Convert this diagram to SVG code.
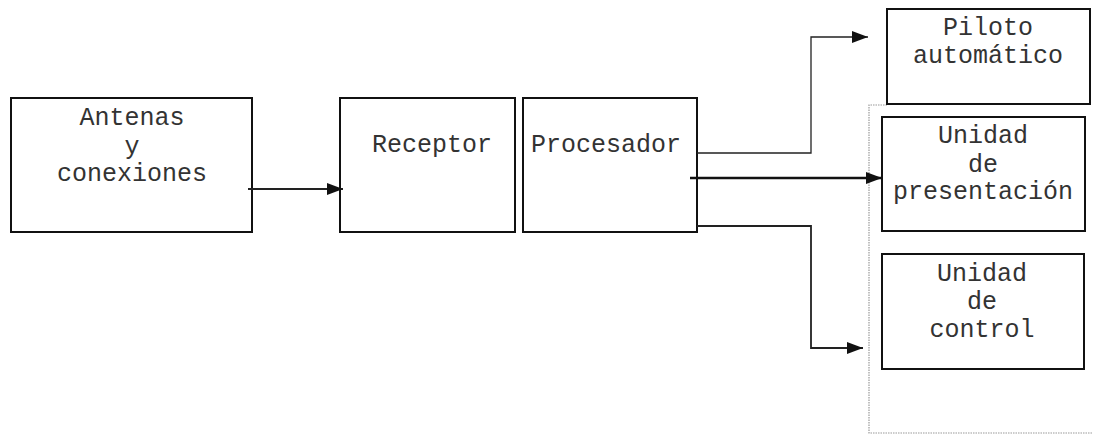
<svg xmlns="http://www.w3.org/2000/svg" width="1093" height="435" viewBox="0 0 1093 435">
<style>
.box{fill:#fff;stroke:#111;stroke-width:2}
.t{font-family:"Liberation Mono","Courier New",monospace;font-size:25px;fill:#333;text-anchor:middle}
.thin{fill:none;stroke:#222;stroke-width:1.3}
.thick{fill:none;stroke:#111;stroke-width:2.5}
</style>
<defs>
<marker id="ah" markerUnits="userSpaceOnUse" markerWidth="16" markerHeight="12" refX="16" refY="6" orient="auto">
<path d="M0,0 L16,6 L0,12 Z" fill="#111"/>
</marker>
</defs>
<rect width="1093" height="435" fill="#fff"/>
<path d="M887,105 H869 V433 H1093" fill="none" stroke="#999" stroke-width="1.2" stroke-dasharray="1.5,1"/>
<g id="antenas">
<rect class="box" x="11" y="98" width="241" height="134"/>
<text class="t" x="132" y="125">Antenas</text>
<text class="t" x="132" y="154">y</text>
<text class="t" x="132" y="181">conexiones</text>
</g>
<g id="receptor">
<rect class="box" x="340" y="98" width="175" height="134"/>
<text class="t" x="432" y="152">Receptor</text>
</g>
<g id="procesador">
<rect class="box" x="523" y="98" width="174" height="134"/>
<text class="t" x="606" y="152">Procesador</text>
</g>
<g id="piloto">
<rect class="box" x="887" y="9" width="203" height="95"/>
<text class="t" x="988" y="35">Piloto</text>
<text class="t" x="988" y="63">automático</text>
</g>
<g id="presentacion">
<rect class="box" x="882" y="117" width="203" height="114"/>
<text class="t" x="983" y="143">Unidad</text>
<text class="t" x="983" y="172">de</text>
<text class="t" x="983" y="199">presentación</text>
</g>
<g id="control">
<rect class="box" x="882" y="254" width="202" height="115"/>
<text class="t" x="982" y="281">Unidad</text>
<text class="t" x="982" y="309">de</text>
<text class="t" x="982" y="337">control</text>
</g>
<g id="connectors">
<path class="thin" style="stroke-width:2" d="M248,189 H343" marker-end="url(#ah)"/>
<path class="thin" d="M697,153 H811 V37 H868" marker-end="url(#ah)"/>
<path class="thick" d="M690,178 H882" marker-end="url(#ah)"/>
<path class="thin" style="stroke-width:1.8" d="M697,226 H811 V348 H863" marker-end="url(#ah)"/>
</g>
</svg>
